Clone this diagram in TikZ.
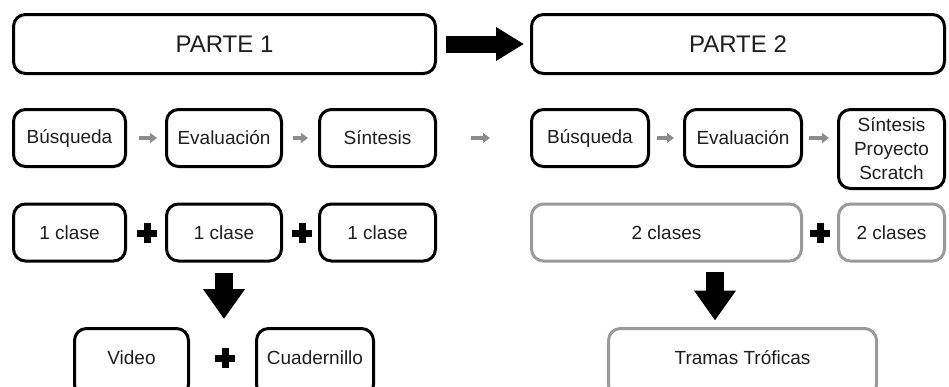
\documentclass[tikz,border=0pt]{standalone}
\usepackage{fontspec}
\setmainfont{Liberation Sans}
\usetikzlibrary{arrows.meta,calc}
\definecolor{txt}{HTML}{1E1E1E}
\definecolor{grayline}{HTML}{9A9A9A}
\definecolor{grayarrow}{HTML}{8C8C8C}
\begin{document}
\begin{tikzpicture}[x=1pt,y=-1pt,
  box/.style={draw=black, line width=3pt, rounded corners=12pt, minimum height=57pt,
    inner sep=2pt, align=center, text=txt, font=\fontsize{19}{24}\selectfont},
  graybox/.style={box, draw=grayline},
  titlebox/.style={box, minimum height=59pt, font=\fontsize{24}{28}\selectfont},
  bottombox/.style={minimum height=68pt, text depth=10pt},
  smallarrow/.style={draw=grayarrow, line width=4pt, -{Triangle[length=7pt,width=10pt]}},
  bigarrow/.style={draw=black, line width=17pt, -{Triangle[length=28pt,width=32pt]}},
  downarrow/.style={draw=black, line width=18pt, -{Triangle[length=30pt,width=40pt]}},
  plusnode/.style={minimum size=20pt, inner sep=0pt,
    path picture={\fill[black] ($(path picture bounding box.center)+(-10pt,-3.5pt)$) rectangle ++(20pt,7pt);
                  \fill[black] ($(path picture bounding box.center)+(-3.5pt,-10pt)$) rectangle ++(7pt,20pt);}}
]
\useasboundingbox (0,0) rectangle (949,386);
\clip (0,0) rectangle (949,386);
\fill[white] (0,0) rectangle (949,386);

% titles
\node[titlebox, minimum width=422pt] (p1) at (224.5,44) {PARTE 1};
\node[titlebox, minimum width=413pt] (p2) at (738,44) {PARTE 2};

% row 2
\node[box, minimum width=112pt] (b1) at (69.5,138) {Búsqueda};
\node[box, minimum width=115pt] (e1) at (224,138) {Evaluación};
\node[box, minimum width=116pt] (s1) at (377.5,138) {Síntesis};
\node[box, minimum width=117pt] (b2) at (590,138) {Búsqueda};
\node[box, minimum width=117pt] (e2) at (743,138) {Evaluación};
\node[box, minimum width=106pt, minimum height=79pt] (s2) at (891.5,149) {Síntesis\\Proyecto\\Scratch};

% row 3
\node[box, minimum width=112pt] (c1) at (69.5,232.5) {1 clase};
\node[box, minimum width=115pt] (c2) at (224,232.5) {1 clase};
\node[box, minimum width=116pt] (c3) at (377.5,232.5) {1 clase};
\node[graybox, minimum width=270pt] (c4) at (666.5,232.5) {2 clases};
\node[graybox, minimum width=106pt] (c5) at (891.5,232.5) {2 clases};

% row 4 (cut by the lower edge)
\node[box, bottombox, minimum width=114pt] (video) at (131.5,362.5) {Video};
\node[box, bottombox, minimum width=117pt] (cuad) at (315,362.5) {Cuadernillo};
\node[graybox, bottombox, minimum width=268pt] (tramas) at (742.5,362.5) {Tramas Tróficas};

% plus signs
\node[plusnode] (pl1) at (147,233) {};
\node[plusnode] (pl2) at (302,233) {};
\node[plusnode] (pl3) at (820,233) {};
\node[plusnode] (pl4) at (225,358) {};

% big arrow between parts
\draw[bigarrow, shorten <=9pt, shorten >=6pt] (p1) -- (p2);

% small gray arrows
\draw[smallarrow, shorten <=12pt, shorten >=8pt] (b1) -- (e1);
\draw[smallarrow, shorten <=10pt, shorten >=10pt] (e1) -- (s1);
\draw[smallarrow, shorten <=34pt, shorten >=40pt] (s1) -- (b2);
\draw[smallarrow, shorten <=7pt, shorten >=9pt] (b2) -- (e2);
\draw[smallarrow, shorten <=6pt, shorten >=8pt] (e2.east) -- (e2.east -| s2.west);

% down arrows
\draw[downarrow, shorten <=10pt, shorten >=8pt] (c2.south) -- (c2.south |- video.north);
\coordinate (d2a) at (715,261.5);
\coordinate (d2b) at (715,328.5);
\draw[downarrow, shorten <=10pt, shorten >=8pt] (d2a) -- (d2b);
\end{tikzpicture}
\end{document}
